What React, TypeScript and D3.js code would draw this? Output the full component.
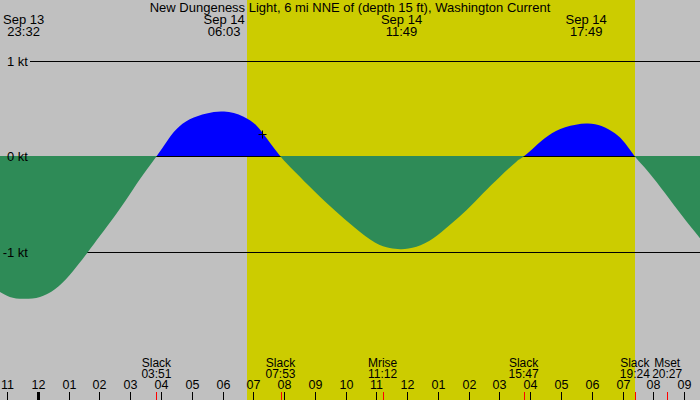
import React, { useEffect, useRef } from 'react';
import * as d3 from 'd3';

// Tidal current, knots (flood +, ebb -)
const flowTimes = [
  '09-13 22:46', '09-13 23:05', '09-13 23:32', '09-14 00:04', '09-14 00:33',
  '09-14 01:02', '09-14 01:36', '09-14 02:01', '09-14 02:33', '09-14 03:06',
  '09-14 03:32', '09-14 03:51', '09-14 04:11', '09-14 04:30', '09-14 04:56',
  '09-14 05:29', '09-14 06:03', '09-14 06:40', '09-14 07:06', '09-14 07:26',
  '09-14 07:53', '09-14 08:21', '09-14 09:00', '09-14 09:39', '09-14 10:18',
  '09-14 10:57', '09-14 11:26', '09-14 11:49', '09-14 12:18', '09-14 12:51',
  '09-14 13:23', '09-14 13:56', '09-14 14:28', '09-14 15:01', '09-14 15:33',
  '09-14 15:47', '09-14 16:09', '09-14 16:35', '09-14 17:08', '09-14 17:49',
  '09-14 18:19', '09-14 18:45', '09-14 19:05', '09-14 19:24', '09-14 19:50',
  '09-14 20:23', '09-14 20:55', '09-14 21:31',
];
const flowKnots = [
  -1.42, -1.47, -1.49, -1.47, -1.39,
  -1.24, -1.01, -0.83, -0.6, -0.34,
  -0.14, 0, 0.155, 0.285, 0.39,
  0.45, 0.47, 0.42, 0.325, 0.19,
  0, -0.16, -0.37, -0.565, -0.745,
  -0.9, -0.958, -0.97, -0.945, -0.857,
  -0.717, -0.56, -0.385, -0.212, -0.054,
  0, 0.103, 0.218, 0.306, 0.345,
  0.319, 0.243, 0.138, 0, -0.159,
  -0.385, -0.613, -0.857,
];

// max flood / max ebb times shown along the top
const peakTimes = ['09-13 23:32', '09-14 06:03', '09-14 11:49', '09-14 17:49'];

// slack and moon events along the bottom
const eventNames = ['Slack', 'Slack', 'Mrise', 'Slack', 'Slack', 'Mset'];
const eventTimes = ['09-14 03:51', '09-14 07:53', '09-14 11:12', '09-14 15:47', '09-14 19:24', '09-14 20:27'];

const gridKnots = [1, 0, -1];
const gridLabels = ['1 kt', '0 kt', '-1 kt'];

const daylight = ['09-14 06:47', '09-14 19:25'];
const timeRange = ['09-13 22:46', '09-14 21:31'];
const nowTime = '09-14 07:17';
const nowKnots = 0.24;

const title = 'New Dungeness Light, 6 mi NNE of (depth 15 ft), Washington Current';

const FONT = '"Liberation Sans", Arial, Helvetica, sans-serif';

const App: React.FC = () => {
  const svgRef = useRef<SVGSVGElement>(null);

  useEffect(() => {
    if (!svgRef.current) return;
    const width = 700;
    const height = 400;
    const parse = d3.timeParse('%Y-%m-%d %H:%M');
    const p = (s: string) => parse('2024-' + s) as Date;

    const svg = d3.select(svgRef.current);
    svg.selectAll('*').remove();

    const x = d3.scaleTime().domain(timeRange.map(p)).range([0, width]);
    const y = d3.scaleLinear().domain([-1, 1]).range([252, 61]);
    const y0 = Math.floor(y(0));

    // backgrounds
    svg.append('rect').attr('width', width).attr('height', height).attr('fill', '#c0c0c0');
    const [sunrise, sunset] = daylight.map(p);
    svg.append('rect')
      .attr('x', Math.round(x(sunrise)))
      .attr('width', Math.round(x(sunset)) - Math.round(x(sunrise)))
      .attr('height', height)
      .attr('fill', '#cccc00');

    // knot lines
    gridKnots.forEach(k => {
      const yy = Math.floor(y(k)) + 0.5;
      svg.append('line')
        .attr('x1', 30).attr('x2', width)
        .attr('y1', yy).attr('y2', yy)
        .attr('stroke', '#000').attr('stroke-width', 1);
    });

    // current curve: blue above zero, green below
    const data = flowTimes.map((t, i) => ({ t: p(t), v: flowKnots[i] }));
    const area = d3.area<{ t: Date; v: number }>()
      .x(d => x(d.t))
      .y0(y0)
      .y1(d => y(d.v))
      .curve(d3.curveNatural);

    const defs = svg.append('defs');
    defs.append('clipPath').attr('id', 'flood')
      .append('rect').attr('x', 0).attr('y', 0).attr('width', width).attr('height', y0);
    defs.append('clipPath').attr('id', 'ebb')
      .append('rect').attr('x', 0).attr('y', y0).attr('width', width).attr('height', height - y0);

    svg.append('path').datum(data)
      .attr('d', area).attr('fill', '#0000ff').attr('clip-path', 'url(#flood)');
    svg.append('path').datum(data)
      .attr('d', area).attr('fill', '#2e8b57').attr('clip-path', 'url(#ebb)');

    gridKnots.forEach((k, i) => {
      svg.append('text')
        .attr('x', 28).attr('y', Math.floor(y(k)) + 5)
        .attr('text-anchor', 'end')
        .style('font-family', FONT).style('font-size', '13px')
        .text(gridLabels[i]);
    });

    // "now" cross
    const cx = Math.round(x(p(nowTime))) + 0.5;
    const cy = Math.round(y(nowKnots)) + 0.5;
    svg.append('path')
      .attr('d', `M${cx - 4},${cy}H${cx + 4}M${cx},${cy - 4}V${cy + 4}`)
      .attr('stroke', '#000').attr('stroke-width', 1);

    // title
    svg.append('text')
      .attr('x', width / 2).attr('y', 12)
      .attr('text-anchor', 'middle')
      .style('font-family', FONT).style('font-size', '13px')
      .text(title);

    // peak labels
    const fmtDay = d3.timeFormat('%b %d');
    const fmtHM = d3.timeFormat('%H:%M');
    peakTimes.map(p).forEach(d => {
      const g = svg.append('g')
        .attr('transform', `translate(${x(d)},0)`)
        .style('font-family', FONT).style('font-size', '13px')
        .attr('text-anchor', 'middle');
      g.append('text').attr('y', 24).text(fmtDay(d));
      g.append('text').attr('y', 36).text(fmtHM(d));
    });

    // hour ticks
    const hours = x.ticks(d3.timeHour.every(1) as d3.TimeInterval);
    const fmtHour = d3.timeFormat('%I');
    hours.forEach(h => {
      const hx = Math.round(x(h)) + 0.5;
      const midnight = h.getHours() === 0;
      svg.append('line')
        .attr('x1', hx).attr('x2', hx)
        .attr('y1', 392).attr('y2', height)
        .attr('stroke', '#000').attr('stroke-width', midnight ? 3 : 1);
      svg.append('text')
        .attr('x', hx).attr('y', 389)
        .attr('text-anchor', 'middle')
        .style('font-family', FONT).style('font-size', '12.5px')
        .text(fmtHour(h));
    });

    // event ticks and labels
    eventTimes.map(p).forEach((d, i) => {
      const ex = Math.round(x(d)) + 0.5;
      svg.append('line')
        .attr('x1', ex).attr('x2', ex)
        .attr('y1', 392).attr('y2', height)
        .attr('stroke', '#ff0000').attr('stroke-width', 1);
      const g = svg.append('g')
        .attr('transform', `translate(${x(d)},0)`)
        .style('font-family', FONT).style('font-size', '12px')
        .attr('text-anchor', 'middle');
      g.append('text').attr('y', 367).text(eventNames[i]);
      g.append('text').attr('y', 378).text(fmtHM(d));
    });
  }, []);

  return (
    <svg
      ref={svgRef}
      width={700}
      height={400}
      style={{ position: 'absolute', left: 0, top: 0, display: 'block' }}
    />
  );
};

export default App;
